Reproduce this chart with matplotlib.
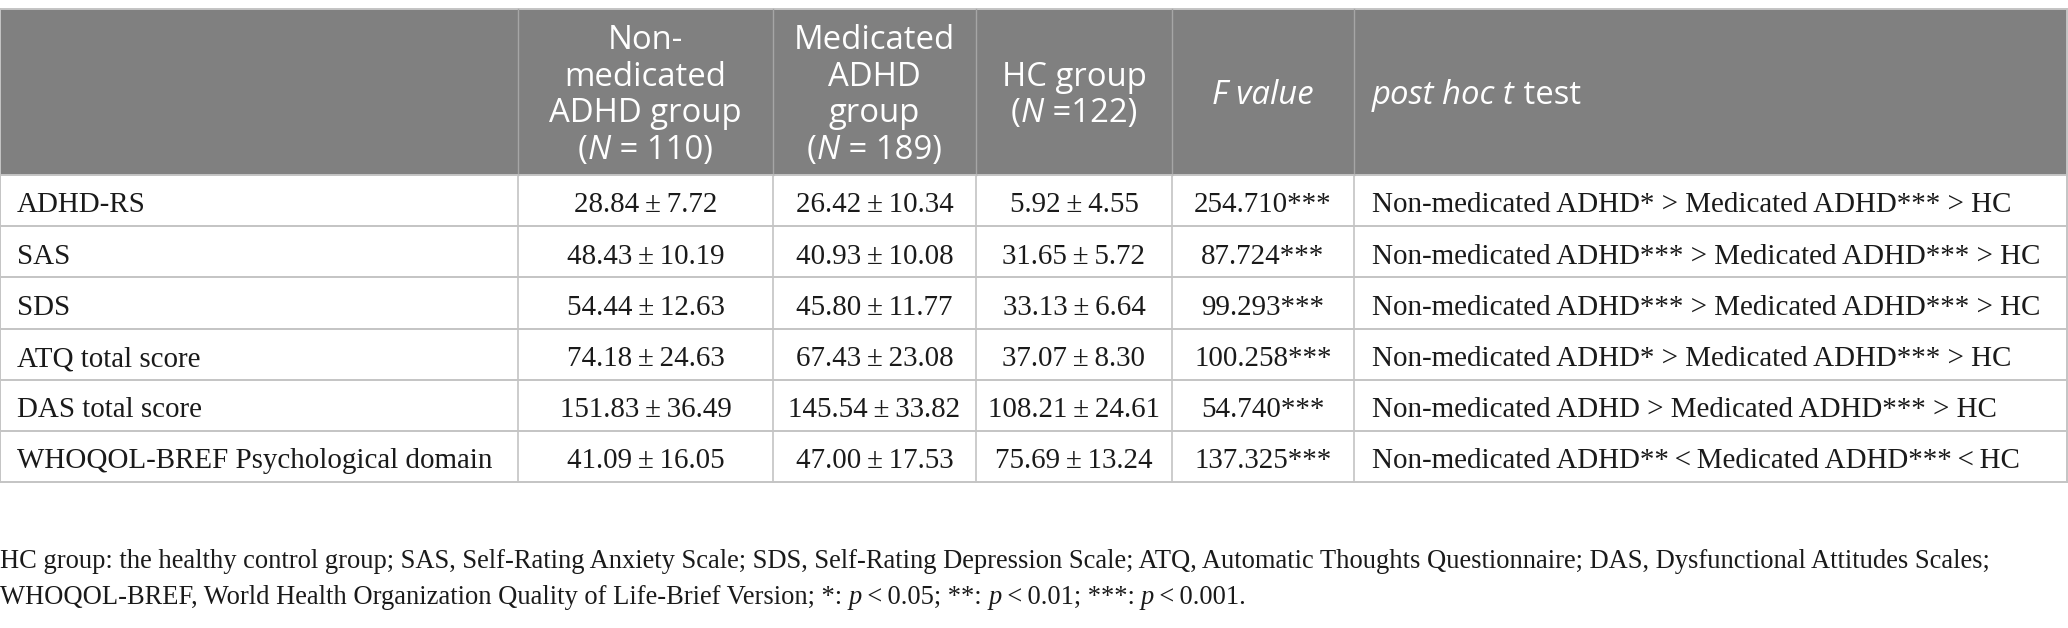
import matplotlib
matplotlib.use("Agg")
import matplotlib.pyplot as plt
from matplotlib.patches import Rectangle

TS = "\u2009"  # thin space

# ---------------- data ----------------
row_labels = ["ADHD-RS", "SAS", "SDS", "ATQ total score", "DAS total score",
              "WHOQOL-BREF Psychological domain"]
nonmed = ["28.84", "48.43", "54.44", "74.18", "151.83", "41.09"]
nonmed_sd = ["7.72", "10.19", "12.63", "24.63", "36.49", "16.05"]
med = ["26.42", "40.93", "45.80", "67.43", "145.54", "47.00"]
med_sd = ["10.34", "10.08", "11.77", "23.08", "33.82", "17.53"]
hc = ["5.92", "31.65", "33.13", "37.07", "108.21", "75.69"]
hc_sd = ["4.55", "5.72", "6.64", "8.30", "24.61", "13.24"]
f_values = ["254.710***", "87.724***", "99.293***", "100.258***", "54.740***",
            "137.325***"]
post_hoc = ["Non-medicated ADHD* > Medicated ADHD*** > HC",
            "Non-medicated ADHD*** > Medicated ADHD*** > HC",
            "Non-medicated ADHD*** > Medicated ADHD*** > HC",
            "Non-medicated ADHD* > Medicated ADHD*** > HC",
            "Non-medicated ADHD > Medicated ADHD*** > HC",
            "Non-medicated ADHD**" + TS + "<" + TS + "Medicated ADHD***" + TS + "<" + TS + "HC"]

# header lines: list of lines, each a list of (text, italic)
headers = [
    [],
    [[("Non-", False)], [("medicated", False)], [("ADHD group", False)],
     [("(", False), ("N", True), (" = 110)", False)]],
    [[("Medicated", False)], [("ADHD", False)], [("group", False)],
     [("(", False), ("N", True), (" = 189)", False)]],
    [[("HC group", False)], [("(", False), ("N", True), (" =122)", False)]],
    [[("F value", True)]],
    [[("post hoc t", True), (" test", False)]],
]

footnote = [
    [("HC group: the healthy control group; SAS, Self-Rating Anxiety Scale; SDS, "
      "Self-Rating Depression Scale; ATQ, Automatic Thoughts Questionnaire; DAS, "
      "Dysfunctional Attitudes Scales;", False)],
    [("WHOQOL-BREF, World Health Organization Quality of Life-Brief Version; *: ", False),
     ("p", True), (TS + "<" + TS + "0.05; **: ", False), ("p", True),
     (TS + "<" + TS + "0.01; ***: ", False), ("p", True), (TS + "<" + TS + "0.001.", False)],
]

# ---------------- layout ----------------
W, H = 2068, 628
col_edges = [0, 518, 773, 976, 1172, 1354, 2067]
header_top, header_bot = 9, 175
row_h = 51.2
n_rows = len(row_labels)
HEAD_BG = "#808080"
GRID = "#c4c4c4"
HEAD_SEP = "#a6a6a6"
TXT = "#1a1a1a"

SERIF = ["Liberation Serif", "DejaVu Serif"]
SANS = "Open Sans"
BODY_SIZE = 20.9
FOOT_SIZE = 19.1
HEAD_SIZE = 23.7

fig = plt.figure(figsize=(W / 100, H / 100), dpi=100)
ax = fig.add_axes([0, 0, 1, 1])
ax.set_xlim(0, W)
ax.set_ylim(H, 0)
ax.axis("off")
renderer = fig.canvas.get_renderer()


def seg_width(s, family, size, italic):
    st = "italic" if italic else "normal"
    t1 = ax.text(0, 0, "|" + s + "|", family=family, size=size, style=st)
    t2 = ax.text(0, 0, "||", family=family, size=size, style=st)
    w = t1.get_window_extent(renderer).width - t2.get_window_extent(renderer).width
    t1.remove()
    t2.remove()
    return w


def draw_segments(x, y, segs, family, size, color, ha="left"):
    widths = [seg_width(s, family, size, it) for s, it in segs]
    total = sum(widths)
    x0 = x - total / 2 if ha == "center" else x
    for (s, it), w in zip(segs, widths):
        ax.text(x0, y, s, family=family, size=size, color=color,
                style="italic" if it else "normal", ha="left", va="baseline")
        x0 += w


# header background
ax.add_patch(Rectangle((col_edges[0], header_top), col_edges[-1] - col_edges[0],
                       header_bot - header_top, facecolor=HEAD_BG, edgecolor="none"))

table_bot = header_bot + n_rows * row_h

# horizontal lines
ax.plot([col_edges[0], col_edges[-1]], [header_top, header_top], color=GRID, lw=1.4)
for i in range(n_rows + 1):
    y = header_bot + i * row_h
    ax.plot([col_edges[0], col_edges[-1]], [y, y], color=GRID, lw=1.4)
# vertical lines
for j, x in enumerate(col_edges):
    if j in (0, len(col_edges) - 1):
        ax.plot([x, x], [header_top, table_bot], color=GRID, lw=1.4)
    else:
        ax.plot([x, x], [header_top, header_bot], color=HEAD_SEP, lw=1.0)
        ax.plot([x, x], [header_bot, table_bot], color=GRID, lw=1.2)

# header text
line_sp = 36.6
head_mid = 104.0
for j, lines in enumerate(headers):
    if not lines:
        continue
    n = len(lines)
    base0 = head_mid - (n - 1) / 2 * line_sp
    for k, segs in enumerate(lines):
        yb = base0 + k * line_sp
        if j == 5:
            draw_segments(col_edges[5] + 18, yb, segs, SANS, HEAD_SIZE, "white", "left")
        else:
            xc = (col_edges[j] + col_edges[j + 1]) / 2
            draw_segments(xc, yb, segs, SANS, HEAD_SIZE, "white", "center")

# body text
for i in range(n_rows):
    yb = header_bot + i * row_h + 37.5
    ax.text(col_edges[0] + 17, yb, row_labels[i], family=SERIF, size=BODY_SIZE,
            ha="left", va="baseline", color=TXT)
    for j, (m, sd) in enumerate([(nonmed, nonmed_sd), (med, med_sd), (hc, hc_sd)], start=1):
        xc = (col_edges[j] + col_edges[j + 1]) / 2
        ax.text(xc, yb, m[i] + TS + "±" + TS + sd[i], family=SERIF, size=BODY_SIZE,
                ha="center", va="baseline", color=TXT)
    xc = (col_edges[4] + col_edges[5]) / 2
    ax.text(xc, yb, f_values[i], family=SERIF, size=BODY_SIZE, ha="center",
            va="baseline", color=TXT)
    ax.text(col_edges[5] + 18, yb, post_hoc[i], family=SERIF, size=BODY_SIZE,
            ha="left", va="baseline", color=TXT)

# footnote
foot_base = [568, 604]
for segs, yb in zip(footnote, foot_base):
    draw_segments(0, yb, segs, SERIF, FOOT_SIZE, TXT, "left")

fig.savefig("out.png", dpi=100)
